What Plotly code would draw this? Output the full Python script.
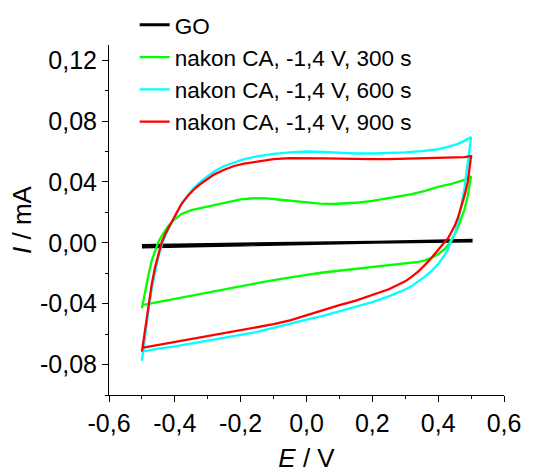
import plotly.graph_objects as go

# ---------------- data ----------------
# GO (black)
go_E = [-0.5, -0.25, 0.0, 0.25, 0.5, 0.5, 0.25, 0.0, -0.25, -0.5]
go_I = [-0.0028, -0.0016, -0.0005, 0.0006, 0.0017, 0.0012, 0.0006, -0.0001, -0.0009, -0.0018]

# nakon CA, -1,4 V, 300 s (green)
g_E_fwd = [-0.5, -0.495, -0.49, -0.48, -0.47, -0.46, -0.45, -0.44, -0.43, -0.42, -0.40, -0.38,
           -0.35, -0.32, -0.28, -0.24, -0.20, -0.16, -0.12, -0.08, -0.04, 0.0, 0.04, 0.08,
           0.12, 0.16, 0.20, 0.24, 0.28, 0.32, 0.36, 0.40, 0.44, 0.47, 0.49, 0.5]
g_I_fwd = [-0.043, -0.037, -0.032, -0.021, -0.0115, -0.005, 0.0005, 0.0045, 0.008, 0.011, 0.0155, 0.019,
           0.0215, 0.023, 0.025, 0.027, 0.0285, 0.0293, 0.0292, 0.0283, 0.0273, 0.0265, 0.0258, 0.0255,
           0.0258, 0.0265, 0.0275, 0.029, 0.0303, 0.032, 0.0342, 0.0368, 0.0388, 0.0405, 0.042, 0.0438]
g_E_rev = [0.5, 0.495, 0.49, 0.48, 0.47, 0.46, 0.45, 0.44, 0.43, 0.42, 0.40, 0.38, 0.36, 0.34,
           0.30, 0.25, 0.20, 0.15, 0.10, 0.05, 0.0, -0.05, -0.10, -0.15, -0.20, -0.25, -0.30,
           -0.35, -0.40, -0.45, -0.5]
g_I_rev = [0.0438, 0.037, 0.031, 0.022, 0.0155, 0.010, 0.0055, 0.0015, -0.0015, -0.004, -0.0075, -0.0098, -0.0115, -0.0125,
           -0.0135, -0.0145, -0.0158, -0.017, -0.018, -0.0195, -0.021, -0.0225, -0.0245, -0.0265, -0.0285, -0.0305, -0.0325,
           -0.0345, -0.0365, -0.0385, -0.041]

# nakon CA, -1,4 V, 600 s (cyan)
c_E_fwd = [-0.5, -0.49, -0.48, -0.47, -0.46, -0.45, -0.44, -0.43, -0.42, -0.40, -0.38, -0.36, -0.34,
           -0.32, -0.30, -0.28, -0.25, -0.22, -0.19, -0.15, -0.10, -0.05, 0.0, 0.05, 0.10, 0.15,
           0.20, 0.25, 0.30, 0.35, 0.40, 0.43, 0.46, 0.48, 0.5]
c_I_fwd = [-0.0775, -0.059, -0.044, -0.030, -0.0185, -0.009, -0.0015, 0.004, 0.009, 0.017, 0.0255, 0.0315, 0.0365,
           0.0405, 0.044, 0.047, 0.0505, 0.053, 0.055, 0.0568, 0.0585, 0.0595, 0.060, 0.0597, 0.059, 0.0587,
           0.0587, 0.059, 0.0595, 0.0603, 0.0615, 0.063, 0.065, 0.067, 0.0695]
c_E_rev = [0.5, 0.495, 0.49, 0.485, 0.48, 0.47, 0.46, 0.45, 0.44, 0.43, 0.42, 0.40, 0.38, 0.36, 0.34,
           0.32, 0.30, 0.25, 0.20, 0.15, 0.10, 0.05, 0.0, -0.05, -0.10, -0.15, -0.20, -0.25, -0.30,
           -0.35, -0.40, -0.45, -0.5]
c_I_rev = [0.0695, 0.061, 0.052, 0.044, 0.036, 0.024, 0.0135, 0.0055, 0.0015, -0.004, -0.008, -0.014, -0.0185, -0.0222, -0.0255,
           -0.0283, -0.0307, -0.0352, -0.039, -0.042, -0.045, -0.048, -0.0505, -0.053, -0.056, -0.0585, -0.0605, -0.0625, -0.0645,
           -0.066, -0.068, -0.0695, -0.0715]

# nakon CA, -1,4 V, 900 s (red)
r_E_fwd = [-0.5, -0.49, -0.48, -0.47, -0.46, -0.45, -0.44, -0.43, -0.42, -0.40, -0.38, -0.36, -0.34,
           -0.32, -0.30, -0.28, -0.25, -0.22, -0.19, -0.15, -0.10, -0.05, 0.0, 0.05, 0.10, 0.15,
           0.20, 0.25, 0.30, 0.35, 0.40, 0.45, 0.48, 0.5]
r_I_fwd = [-0.0715, -0.0555, -0.041, -0.027, -0.016, -0.0075, 0.0003, 0.0055, 0.0095, 0.017, 0.0255, 0.031, 0.0355,
           0.039, 0.042, 0.045, 0.048, 0.0505, 0.052, 0.0535, 0.055, 0.0556, 0.0557, 0.0555, 0.0553, 0.055,
           0.055, 0.055, 0.0552, 0.0553, 0.0555, 0.0558, 0.0563, 0.057]
r_E_rev = [0.5, 0.495, 0.49, 0.48, 0.47, 0.46, 0.45, 0.44, 0.43, 0.42, 0.41, 0.40, 0.38, 0.36, 0.34,
           0.32, 0.30, 0.25, 0.20, 0.15, 0.10, 0.05, 0.0, -0.05, -0.10, -0.15, -0.20, -0.25, -0.30,
           -0.35, -0.40, -0.45, -0.5]
r_I_rev = [0.057, 0.048, 0.040, 0.031, 0.023, 0.0165, 0.011, 0.0065, 0.003, 0.0005, -0.0022, -0.0048, -0.0098, -0.0145, -0.0187,
           -0.0222, -0.0253, -0.0305, -0.0345, -0.038, -0.041, -0.0445, -0.0475, -0.051, -0.0535, -0.0555, -0.0575, -0.0595, -0.0615,
           -0.0635, -0.0655, -0.067, -0.069]

series_names = ["GO", "nakon CA, -1,4 V, 300 s", "nakon CA, -1,4 V, 600 s", "nakon CA, -1,4 V, 900 s"]
series_colors = ["#000000", "#00ff00", "#00ffff", "#ff0000"]

x_tickvals = [-0.6, -0.4, -0.2, 0.0, 0.2, 0.4, 0.6]
x_ticktext = ["-0,6", "-0,4", "-0,2", "0,0", "0,2", "0,4", "0,6"]
y_tickvals = [-0.08, -0.04, 0.0, 0.04, 0.08, 0.12]
y_ticktext = ["-0,08", "-0,04", "0,00", "0,04", "0,08", "0,12"]

# ---------------- figure ----------------
FONT = "Arial, 'Liberation Sans', sans-serif"
fig = go.Figure()

curves = [
    (go_E, go_I),
    (g_E_fwd + g_E_rev, g_I_fwd + g_I_rev),
    (c_E_fwd + c_E_rev, c_I_fwd + c_I_rev),
    (r_E_fwd + r_E_rev, r_I_fwd + r_I_rev),
]
widths = [3, 2.3, 2.3, 2.3]
for (E, I), name, col, w in zip(curves, series_names, series_colors, widths):
    fig.add_trace(go.Scatter(x=E, y=I, mode="lines", name=name,
                             line=dict(color=col, width=w)))

fig.update_layout(
    width=537, height=473,
    margin=dict(l=109, r=33, t=45, b=78, autoexpand=False),
    paper_bgcolor="white", plot_bgcolor="white",
    font=dict(family=FONT, color="black", size=25),
    showlegend=True,
    legend=dict(x=0.065, y=1.118, xanchor="left", yanchor="top",
                bgcolor="rgba(0,0,0,0)", borderwidth=0,
                font=dict(size=22.5, family=FONT), tracegroupgap=0),
)
fig.update_xaxes(
    range=[-0.6, 0.6], showline=True, linecolor="black", linewidth=1, mirror=False,
    showgrid=False, zeroline=False, automargin=False,
    tickmode="array", tickvals=x_tickvals, ticktext=x_ticktext,
    ticks="outside", ticklen=6, tickwidth=1, tickcolor="black",
    tickfont=dict(size=25, family=FONT),
    minor=dict(ticks="outside", ticklen=3, tickwidth=1, tickcolor="black", dtick=0.1, tick0=0),
    title=dict(text="<i>E</i> / V", font=dict(size=26, family=FONT), standoff=14),
)
fig.update_yaxes(
    range=[-0.1, 0.13], showline=True, linecolor="black", linewidth=1, mirror=False,
    showgrid=False, zeroline=False, automargin=False,
    tickmode="array", tickvals=y_tickvals, ticktext=y_ticktext,
    ticks="outside", ticklen=6, tickwidth=1, tickcolor="black",
    tickfont=dict(size=25, family=FONT),
    minor=dict(ticks="outside", ticklen=3, tickwidth=1, tickcolor="black", dtick=0.02, tick0=0),
    title=dict(text="<i>I</i> / mA", font=dict(size=26, family=FONT), standoff=0),
)

fig.write_html("out.html", config={"displayModeBar": False},
               post_script="document.body.style.margin='0';")
